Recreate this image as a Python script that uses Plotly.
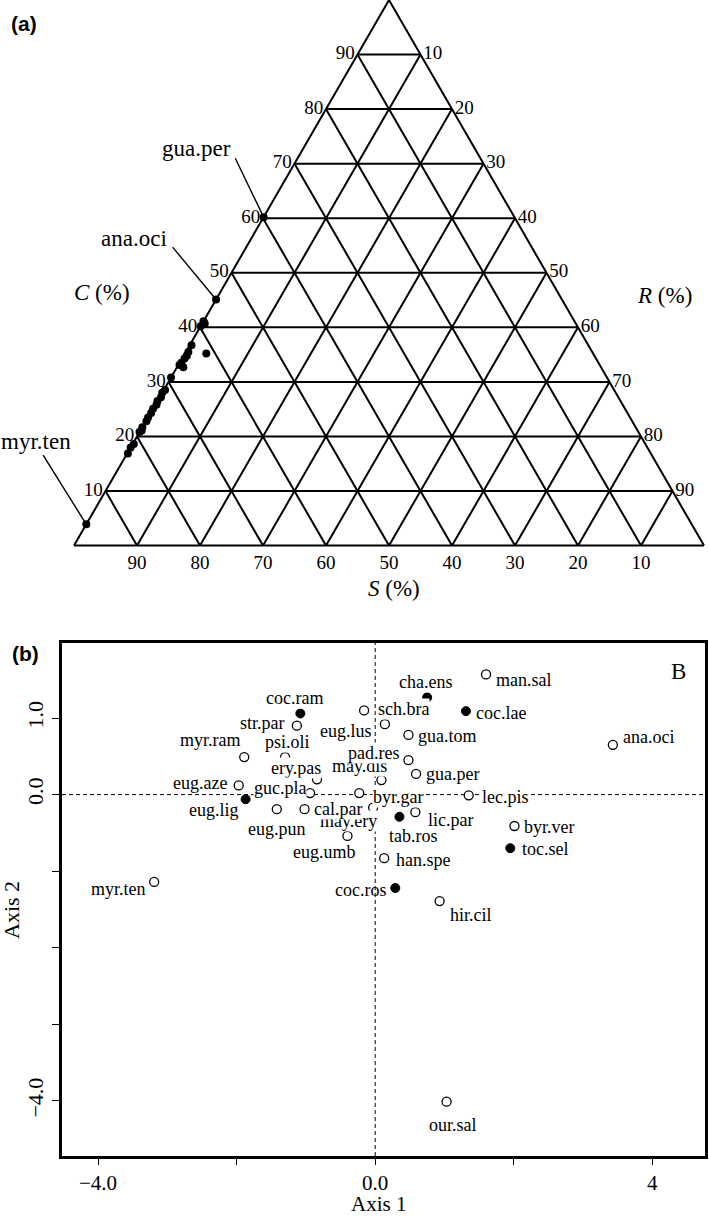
import math
import plotly.graph_objects as go

# ---------------- Panel (a): CSR ternary ----------------
tern_C = [60.2, 45.1, 41.1, 40.7, 40.2, 36.7, 35.5, 34.8, 34.3, 33.5, 33.1, 32.7, 35.2,
          30.8, 28.5, 28.0, 27.2, 26.5, 25.8, 25.1, 24.3, 23.5, 22.8, 21.7, 21.1, 20.8,
          18.6, 18.0, 16.9, 3.9]
tern_R = [0.0, 0.0, 0.0, 0.4, 0.0, 0.3, 0.4, 0.5, 0.4, 0.3, 0.2, 1.0, 3.4,
          0.0, 0.2, 0.0, 0.2, 0.0, 0.2, 0.0, 0.1, 0.0, 0.1, 0.0, 0.2, 0.0,
          0.2, 0.0, 0.1, 0.0]
tern_S = [100 - c - r for c, r in zip(tern_C, tern_R)]
tern_ticks = [10, 20, 30, 40, 50, 60, 70, 80, 90]

leader_names = ["gua.per", "ana.oci", "myr.ten"]
leader_C = [60.2, 45.1, 3.9]
leader_R = [0.0, 0.0, 0.0]
# leader-line end offsets (layout, ternary units) and label placement
leader_dC = [10.8, 9.6, 12.7]
leader_dR = [-9.9, -11.7, -13.2]
leader_xanchor = ["right", "right", "center"]
leader_xshift = [-2, -4, -7]
leader_yshift = [10, 9, 14]

# ---------------- Panel (b): ordination ----------------
species = ["coc.ram", "str.par", "myr.ram", "psi.oli", "ery.pas", "eug.aze", "eug.lig",
           "guc.pla", "eug.pun", "may.ery", "cal.par", "byr.gar", "may.dis", "eug.umb",
           "tab.ros", "lic.par", "han.spe", "coc.ros", "myr.ten", "eug.lus", "sch.bra",
           "cha.ens", "gua.tom", "pad.res", "gua.per", "man.sal", "coc.lae", "ana.oci",
           "lec.pis", "byr.ver", "toc.sel", "hir.cil", "our.sal"]
axis1 = [-1.08, -1.13, -1.89, -1.30, -0.84, -1.97, -1.87, -0.94, -1.42, -0.03, -1.02, -0.23,
         0.09, -0.40, 0.35, 0.58, 0.13, 0.29, -3.19, 0.14, -0.16, 0.75, 0.48, 0.48, 0.59,
         1.60, 1.31, 3.43, 1.35, 2.01, 1.95, 0.93, 1.03]
axis2 = [1.06, 0.90, 0.49, 0.49, 0.20, 0.12, -0.06, 0.02, -0.19, -0.17, -0.19, 0.02, 0.19,
         -0.54, -0.29, -0.23, -0.83, -1.22, -1.14, 0.92, 1.10, 1.27, 0.78, 0.45, 0.27,
         1.57, 1.09, 0.65, -0.01, -0.41, -0.70, -1.39, -4.01]
filled = [1, 0, 0, 0, 0, 0, 1, 0, 0, 0, 0, 0, 0, 0, 1, 0, 0, 1, 0, 0, 0, 1, 0, 0, 0,
          0, 1, 0, 0, 0, 1, 0, 0]
# label offsets from the point, in pixels (dx right, dy down)
label_dx = [-6, -34, -34, 2, -21, -39, -32, -30, 0, -25, 33, 39, -22, -23, 14, 35, 39, -35,
            -36, -39, 39, -2, 39, -35, 36, 38, 35, 36, 37, 35, 35, 31, 6]
label_dy = [-15, -3, -17, -15, -11, -2, 11, -5, 20, 13, 0, 4, -14, 16, 19, 8, 2, 2,
            7, 7, -1, -15, 1, -7, 0, 6, 2, -8, 2, 1, 1, 14, 23]

x_tickvals = [-4, -2, 0, 2, 4]
x_ticktext = ["\u22124.0", "", "0.0", "", "4"]
y_tickvals = [-4, -3, -2, -1, 0, 1]
y_ticktext = ["\u22124.0", "", "", "", "0.0", "1.0"]

W, H = 709, 1216
SERIF = "Liberation Serif"

# ternary domain and the same geometry plotly uses to place the triangle
TDOM_X = [74 / W, 704 / W]
TDOM_Y = [1 - 545.6 / H, 1.0]


def tern_to_paper(a, b, c):
    wmax = (TDOM_X[1] - TDOM_X[0]) * W
    hmax = (TDOM_Y[1] - TDOM_Y[0]) * H
    w_over_h = 2 / math.sqrt(3)
    if wmax > w_over_h * hmax:
        h = hmax
        w = h * w_over_h
    else:
        w = wmax
        h = w / w_over_h
    cx = W * (TDOM_X[0] + TDOM_X[1]) / 2
    cy = H * (1 - (TDOM_Y[0] + TDOM_Y[1]) / 2)
    x0, ytop = cx - w / 2, cy - h / 2
    s = a + b + c
    px = x0 + w * (0.5 * a + c) / s
    py = ytop + h * (1 - a / s)
    return px / W, 1 - py / H


fig = go.Figure()

# ternary points
fig.add_trace(go.Scatterternary(
    a=tern_C, b=tern_S, c=tern_R, mode="markers",
    marker=dict(color="black", size=8, line=dict(width=0)),
    cliponaxis=False, showlegend=False, hoverinfo="skip"))

tern_axis = dict(
    tickmode="array", tickvals=tern_ticks, ticktext=[str(t) for t in tern_ticks],
    ticks="", showgrid=True, gridcolor="black", gridwidth=1.6,
    linecolor="black", linewidth=2, showline=True,
    tickfont=dict(family=SERIF, size=19, color="black"), title=dict(text=""),
    min=0, layer="below traces")

fig.update_layout(ternary=dict(
    sum=100, domain=dict(x=TDOM_X, y=TDOM_Y), bgcolor="white",
    aaxis=tern_axis, baxis=tern_axis, caxis=tern_axis))

shapes = []
annotations = []

# leader lines + labels for panel (a)
for name, c0, r0, dc, dr, xa, xs, ys in zip(leader_names, leader_C, leader_R, leader_dC,
                                            leader_dR, leader_xanchor, leader_xshift,
                                            leader_yshift):
    c1, r1 = c0 + dc, r0 + dr
    p0 = tern_to_paper(c0, 100 - c0 - r0, r0)
    p1 = tern_to_paper(c1, 100 - c1 - r1, r1)
    shapes.append(dict(type="line", xref="paper", yref="paper",
                       x0=p0[0], y0=p0[1], x1=p1[0], y1=p1[1],
                       line=dict(color="black", width=1.4)))
    annotations.append(dict(x=p1[0], y=p1[1], xref="paper", yref="paper", text=name,
                            xanchor=xa, yanchor="middle", xshift=xs, yshift=ys,
                            showarrow=False,
                            font=dict(family=SERIF, size=23, color="black")))

# ordination points
open_x = [x for x, f in zip(axis1, filled) if not f]
open_y = [y for y, f in zip(axis2, filled) if not f]
fill_x = [x for x, f in zip(axis1, filled) if f]
fill_y = [y for y, f in zip(axis2, filled) if f]
fig.add_trace(go.Scatter(x=open_x, y=open_y, mode="markers",
                         marker=dict(color="white", size=9, line=dict(color="black", width=1.3)),
                         showlegend=False, hoverinfo="skip", cliponaxis=False))
fig.add_trace(go.Scatter(x=fill_x, y=fill_y, mode="markers",
                         marker=dict(color="black", size=9, line=dict(color="black", width=1)),
                         showlegend=False, hoverinfo="skip", cliponaxis=False))

for name, x, y, dx, dy in zip(species, axis1, axis2, label_dx, label_dy):
    annotations.append(dict(
        x=x, y=y, xref="x", yref="y", text=name, showarrow=False,
        xanchor="center", yanchor="middle",
        xshift=dx, yshift=-dy, borderpad=0,
        bgcolor="rgba(0,0,0,0)" if name == "coc.ros" else "white",
        font=dict(family=SERIF, size=18, color="black")))


def paper_text(px, py, text, size, family=SERIF, angle=0):
    return dict(x=px / W, y=1 - py / H, xref="paper", yref="paper", text=text,
                xanchor="center", yanchor="middle", textangle=angle, showarrow=False,
                font=dict(family=family, size=size, color="black"))


annotations += [
    paper_text(24, 23.5, "<b>(a)</b>", 21, "Liberation Sans"),
    paper_text(25, 653, "<b>(b)</b>", 21, "Liberation Sans"),
    paper_text(101.5, 293, "<i>C</i> (%)", 23),
    paper_text(664.5, 295, "<i>R</i> (%)", 23),
    paper_text(394, 588, "<i>S</i> (%)", 23),
    paper_text(678, 671, "B", 23),
    paper_text(379, 1204, "Axis 1", 21),
    paper_text(11, 910, "Axis 2", 22, angle=-90),
]

shapes += [
    dict(type="line", xref="x", yref="y domain", x0=0, x1=0, y0=0, y1=1,
         line=dict(color="black", width=1, dash="4px,3px"), layer="below"),
    dict(type="line", xref="x domain", yref="y", x0=0, x1=1, y0=0, y1=0,
         line=dict(color="black", width=1, dash="4px,3px"), layer="below"),
]

fig.update_layout(
    width=W, height=H, margin=dict(l=0, r=0, t=0, b=0),
    paper_bgcolor="white", plot_bgcolor="white",
    font=dict(family=SERIF, color="black"),
    xaxis=dict(domain=[62 / W, 705 / W], range=[-4.52, 4.76],
               tickmode="array", tickvals=x_tickvals, ticktext=x_ticktext,
               ticks="outside", ticklen=6, tickwidth=1.2, tickcolor="black",
               showline=True, linewidth=3, linecolor="black", mirror=True,
               showgrid=False, zeroline=False,
               tickfont=dict(family=SERIF, size=21, color="black")),
    yaxis=dict(domain=[1 - 1156 / H, 1 - 643 / H], range=[-4.72, 1.98],
               tickmode="array", tickvals=y_tickvals, ticktext=y_ticktext,
               ticks="outside", ticklen=7, tickwidth=1.2, tickcolor="black",
               tickangle=-90,
               showline=True, linewidth=3, linecolor="black", mirror=True,
               showgrid=False, zeroline=False,
               tickfont=dict(family=SERIF, size=22, color="black")),
    annotations=annotations, shapes=shapes, showlegend=False,
)

# remove the browser's default 8px body margin so the figure fills the window exactly
fig.write_html("out.html",
               config={"displayModeBar": False},
               post_script="document.body.style.margin='0px';"
                           "document.body.style.overflow='hidden';")
